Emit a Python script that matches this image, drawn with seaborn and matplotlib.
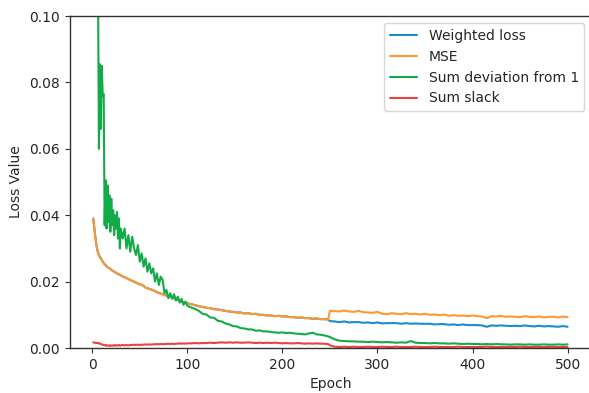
import numpy as np
import pandas as pd
import matplotlib
matplotlib.use("Agg")
import matplotlib.pyplot as plt
import seaborn as sns

# ---- data ----
epochs_a = list(range(1, 31))
epochs_b = list(range(32, 101, 2))
epochs_c = list(range(104, 249, 4))
epochs_d = list(range(250, 501, 5))
epochs = epochs_a + epochs_b + epochs_c + epochs_d

mse_a = [0.0390, 0.0365, 0.0340, 0.0318, 0.0300, 0.0288, 0.0280, 0.0274, 0.0270, 0.0265,
         0.0260, 0.0256, 0.0252, 0.0250, 0.0246, 0.0244, 0.0242, 0.0240, 0.0238, 0.0236,
         0.0233, 0.0232, 0.0230, 0.0228, 0.0227, 0.0225, 0.0223, 0.0222, 0.0220, 0.0219]
mse_b = [0.0216, 0.0213, 0.0211, 0.0208, 0.0205, 0.0202, 0.0200, 0.0197, 0.0194, 0.0192,
         0.0190, 0.0187, 0.0182, 0.0180, 0.0178, 0.0176, 0.0174, 0.0171, 0.0168, 0.0166,
         0.0164, 0.0162, 0.0160, 0.0158, 0.0156, 0.0154, 0.0151, 0.0150, 0.0148, 0.0145,
         0.0142, 0.0140, 0.0138, 0.0137, 0.0135]
mse_c = [0.0132, 0.0129, 0.0126, 0.0124, 0.0121, 0.0120, 0.0117, 0.0116, 0.0114, 0.0112,
         0.0110, 0.0109, 0.0107, 0.0107, 0.0104, 0.0105, 0.0102, 0.0103, 0.0100, 0.0100,
         0.0098, 0.0098, 0.0096, 0.0097, 0.0095, 0.0095, 0.0093, 0.0093, 0.0091, 0.0092,
         0.0090, 0.0090, 0.0088, 0.0089, 0.0087, 0.0087, 0.0086]
mse_d = [0.0112, 0.0111, 0.0110, 0.0113, 0.0110, 0.0109, 0.0112, 0.0108, 0.0107, 0.0106,
         0.0109, 0.0103, 0.0102, 0.0105, 0.0103, 0.0102, 0.0105, 0.0102, 0.0103, 0.0101,
         0.0103, 0.0100, 0.0101, 0.0099, 0.0101, 0.0097, 0.0099, 0.0097, 0.0098, 0.0096,
         0.0098, 0.0096, 0.0095, 0.0090, 0.0096, 0.0095, 0.0097, 0.0094, 0.0095, 0.0094,
         0.0093, 0.0096, 0.0094, 0.0093, 0.0095, 0.0092, 0.0094, 0.0094, 0.0092, 0.0095,
         0.0093]

weighted_d = [0.0081, 0.0080, 0.0078, 0.0080, 0.0077, 0.0078, 0.0078, 0.0076, 0.0077, 0.0075,
              0.0077, 0.0074, 0.0075, 0.0075, 0.0075, 0.0073, 0.0075, 0.0073, 0.0074, 0.0073,
              0.0073, 0.0073, 0.0071, 0.0072, 0.0072, 0.0070, 0.0071, 0.0069, 0.0071, 0.0069,
              0.0069, 0.0069, 0.0068, 0.0064, 0.0068, 0.0067, 0.0068, 0.0067, 0.0066, 0.0067,
              0.0066, 0.0068, 0.0066, 0.0065, 0.0067, 0.0065, 0.0066, 0.0065, 0.0064, 0.0066,
              0.0064]

dev_a = [0.400, 0.280, 0.200, 0.160, 0.130, 0.112, 0.060, 0.0855, 0.066, 0.085,
         0.076, 0.0765, 0.037, 0.0505, 0.036, 0.049, 0.038, 0.046, 0.035, 0.045,
         0.037, 0.0415, 0.034, 0.040, 0.036, 0.041, 0.033, 0.039, 0.030, 0.036]
dev_b = [0.033, 0.036, 0.030, 0.034, 0.029, 0.0335, 0.030, 0.028, 0.031, 0.026,
         0.0285, 0.0245, 0.027, 0.023, 0.0255, 0.0225, 0.024, 0.020, 0.0225, 0.019,
         0.0215, 0.0205, 0.0165, 0.0175, 0.0150, 0.0165, 0.0148, 0.0162, 0.0143, 0.0155,
         0.0137, 0.0148, 0.0130, 0.0140, 0.0127]
dev_c = [0.0122, 0.0118, 0.0112, 0.0103, 0.0101, 0.0092, 0.0091, 0.0082, 0.0080, 0.0074,
         0.0071, 0.0066, 0.0065, 0.0060, 0.0059, 0.0056, 0.0056, 0.0052, 0.0053, 0.0050,
         0.0050, 0.0048, 0.0047, 0.0046, 0.0047, 0.0045, 0.0046, 0.0044, 0.0043, 0.0042,
         0.0041, 0.0044, 0.0046, 0.0041, 0.0040, 0.0038, 0.0035]
dev_d = [0.0033, 0.0026, 0.0022, 0.0021, 0.0020, 0.0020, 0.0019, 0.0019, 0.0018, 0.0019,
         0.0018, 0.0017, 0.0018, 0.0017, 0.0016, 0.0017, 0.0016, 0.0021, 0.0016, 0.0015,
         0.0015, 0.0014, 0.0015, 0.0014, 0.0014, 0.0013, 0.0014, 0.0013, 0.0012, 0.0013,
         0.0012, 0.0012, 0.0011, 0.0012, 0.0011, 0.0012, 0.0011, 0.0011, 0.0010, 0.0011,
         0.0011, 0.0010, 0.0011, 0.0010, 0.0010, 0.0011, 0.0010, 0.0010, 0.0011, 0.0010,
         0.0011]

slack_a = [0.0017, 0.0016, 0.0016, 0.0015, 0.0016, 0.0014, 0.0015, 0.0013, 0.0012, 0.0011,
           0.0010, 0.0009, 0.0008, 0.0009, 0.0007, 0.0008, 0.0007, 0.0008, 0.0006, 0.0008,
           0.0007, 0.0008, 0.0007, 0.0009, 0.0007, 0.0008, 0.0008, 0.0009, 0.0007, 0.0008]
slack_b = [0.0009, 0.0008, 0.0009, 0.0008, 0.0009, 0.0009, 0.0010, 0.0009, 0.0010, 0.0009,
           0.0010, 0.0010, 0.0011, 0.0010, 0.0011, 0.0010, 0.0011, 0.0011, 0.0012, 0.0011,
           0.0012, 0.0011, 0.0012, 0.0012, 0.0013, 0.0012, 0.0013, 0.0012, 0.0013, 0.0013,
           0.0014, 0.0013, 0.0014, 0.0013, 0.0014]
slack_c = [0.0014, 0.0015, 0.0014, 0.0015, 0.0015, 0.0016, 0.0015, 0.0016, 0.0017, 0.0016,
           0.0017, 0.0016, 0.0017, 0.0016, 0.0016, 0.0017, 0.0016, 0.0015, 0.0016, 0.0015,
           0.0016, 0.0015, 0.0016, 0.0015, 0.0014, 0.0015, 0.0014, 0.0014, 0.0015, 0.0014,
           0.0013, 0.0014, 0.0013, 0.0014, 0.0013, 0.0013, 0.0012]
slack_d = [0.0008, 0.0004, 0.0003, 0.0004, 0.0003, 0.0004, 0.0003, 0.0003, 0.0004, 0.0003,
           0.0003, 0.0004, 0.0003, 0.0003, 0.0004, 0.0003, 0.0003, 0.0003, 0.0004, 0.0003,
           0.0003, 0.0003, 0.0004, 0.0003, 0.0003, 0.0003, 0.0003, 0.0004, 0.0003, 0.0003,
           0.0003, 0.0003, 0.0003, 0.0004, 0.0003, 0.0003, 0.0003, 0.0003, 0.0003, 0.0003,
           0.0004, 0.0003, 0.0003, 0.0003, 0.0003, 0.0003, 0.0003, 0.0003, 0.0003, 0.0003,
           0.0003]

series_names = ["Weighted loss", "MSE", "Sum deviation from 1", "Sum slack"]
colors = ["#1b8bcb", "#ff982e", "#13ab48", "#eb4242"]

mse = mse_a + mse_b + mse_c + mse_d
weighted = mse_a + mse_b + mse_c + weighted_d
deviation = dev_a + dev_b + dev_c + dev_d
slack = slack_a + slack_b + slack_c + slack_d

df = pd.DataFrame({"Epoch": epochs,
                   series_names[0]: weighted,
                   series_names[1]: mse,
                   series_names[2]: deviation,
                   series_names[3]: slack})
long = df.melt(id_vars="Epoch", var_name="series", value_name="Loss Value")

# ---- plot ----
sns.set_style("white")
plt.rcParams["font.family"] = ["DejaVu Sans"]

fig = plt.figure(figsize=(5.89, 3.93), dpi=100)
ax = fig.add_axes([0.118, 0.1145, 0.886, 0.8445])

sns.lineplot(data=long, x="Epoch", y="Loss Value", hue="series",
             hue_order=series_names, palette=colors, linewidth=1.5,
             ax=ax, legend=True)

ax.set_ylim(0, 0.1)
ax.set_xlim(-23.95, 524.95)
ax.set_xticks([0, 100, 200, 300, 400, 500])
ax.set_yticks([0.0, 0.02, 0.04, 0.06, 0.08, 0.10])
ax.set_yticklabels(["0.00", "0.02", "0.04", "0.06", "0.08", "0.10"])
ax.set_xlabel("Epoch", fontsize=10)
ax.set_ylabel("Loss Value", fontsize=10)
ax.tick_params(axis="both", labelsize=10, length=3.5, width=0.8,
               bottom=True, left=True, color="#333333")
for side in ["left", "bottom", "top"]:
    ax.spines[side].set_color("#333333")
    ax.spines[side].set_linewidth(1.0)
ax.spines["right"].set_visible(False)

leg = ax.legend(loc="upper right", fontsize=10, frameon=True)
leg.get_frame().set_edgecolor("#cccccc")
for line in leg.get_lines():
    line.set_linewidth(1.5)

fig.savefig("out.png", dpi=100)
